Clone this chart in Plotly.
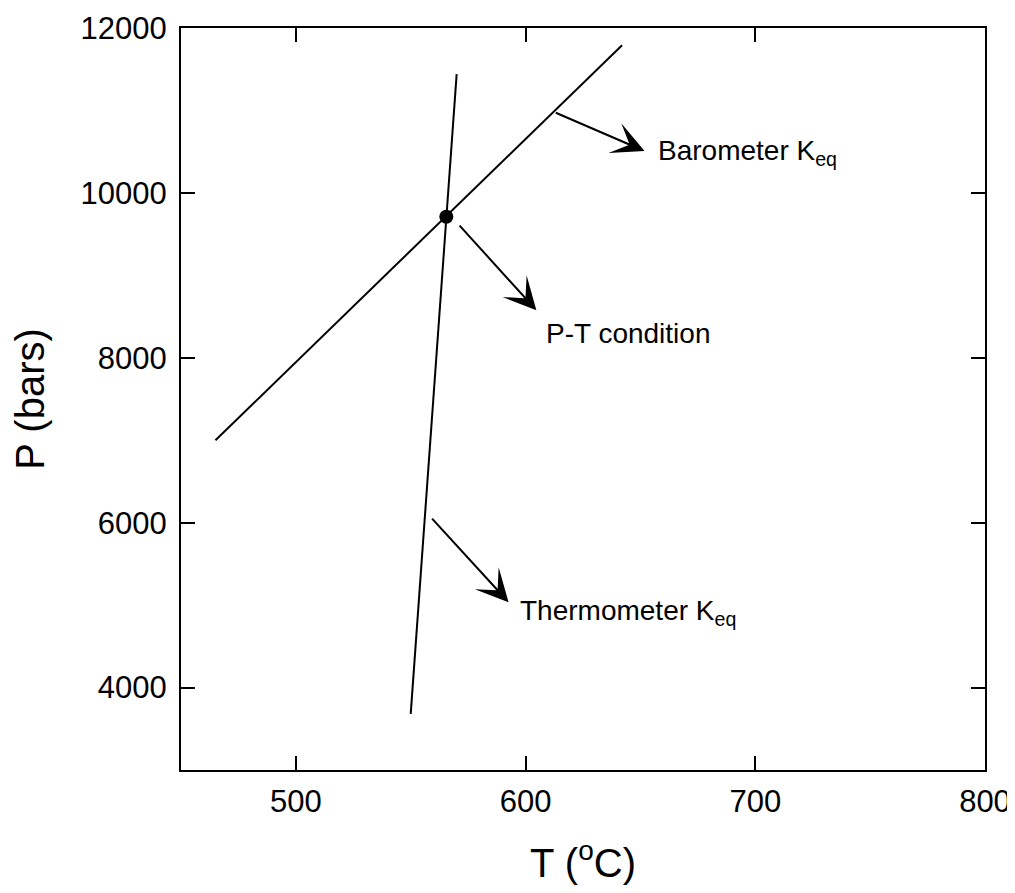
import plotly.graph_objects as go

# ---- data ----
baro_T = [465, 642]
baro_P = [7000, 11790]
thermo_T = [550, 570]
thermo_P = [3680, 11440]
pt_T = [565.5]
pt_P = [9710]

labels = ["Barometer K<sub>eq</sub>", "P-T condition", "Thermometer K<sub>eq</sub>"]
arrow_tail_T = [612.5, 570.7, 558.7]
arrow_tail_P = [10980, 9621, 6067]
arrow_tip_T = [651.8, 604.7, 592.6]
arrow_tip_P = [10507, 8577, 5036]
label_T = [656.6, 608.1, 596.6]
label_P = [10495, 8297, 4914]

x_ticks = [500, 600, 700, 800]
x_ticktext = ["500", "600", "700", "800"]
y_ticks = [4000, 6000, 8000, 10000, 12000]
y_ticktext = ["4000", "6000", "8000", "10000", "12000"]
x_range = [450, 800]
y_range = [3000, 12000]

FONT = "Liberation Sans, Arial, sans-serif"

fig = go.Figure()
fig.add_trace(go.Scatter(x=baro_T, y=baro_P, mode="lines",
                         line=dict(color="black", width=2), showlegend=False))
fig.add_trace(go.Scatter(x=thermo_T, y=thermo_P, mode="lines",
                         line=dict(color="black", width=2), showlegend=False))
fig.add_trace(go.Scatter(x=pt_T, y=pt_P, mode="markers",
                         marker=dict(color="black", size=14), showlegend=False))

annotations = []
for i in range(len(labels)):
    annotations.append(dict(
        x=arrow_tip_T[i], y=arrow_tip_P[i], xref="x", yref="y",
        ax=arrow_tail_T[i], ay=arrow_tail_P[i], axref="x", ayref="y",
        text="", showarrow=True, arrowhead=3, arrowsize=2.7, arrowwidth=2,
        arrowcolor="black", standoff=0, startstandoff=0))
    annotations.append(dict(
        x=label_T[i], y=label_P[i], xref="x", yref="y",
        text=labels[i], showarrow=False, xanchor="left", yanchor="middle",
        font=dict(family=FONT, size=28, color="black")))

axis_common = dict(showline=True, linewidth=2, linecolor="black", mirror="ticks",
                   ticks="inside", ticklen=14, tickwidth=2, tickcolor="black",
                   showgrid=False, zeroline=False, automargin=False,
                   tickfont=dict(family=FONT, size=31, color="black"))

# page body has an 8px default margin, so the figure is offset by 8px
fig.update_layout(
    width=1007, height=877,
    margin=dict(l=173, r=30, t=20, b=115, autoexpand=False),
    paper_bgcolor="white", plot_bgcolor="white",
    xaxis=dict(range=x_range, tickvals=x_ticks, ticktext=x_ticktext,
               ticklabelstandoff=3, ticklabeloverflow="allow",
               title=dict(text="T (<sup>o</sup>C)", standoff=38,
                          font=dict(family=FONT, size=40, color="black")),
               **axis_common),
    yaxis=dict(range=y_range, tickvals=y_ticks, ticktext=y_ticktext,
               ticklabelstandoff=6,
               title=dict(text="P (bars)", standoff=24,
                          font=dict(family=FONT, size=40, color="black")),
               **axis_common),
    annotations=annotations,
)

fig.write_html("out.html")
